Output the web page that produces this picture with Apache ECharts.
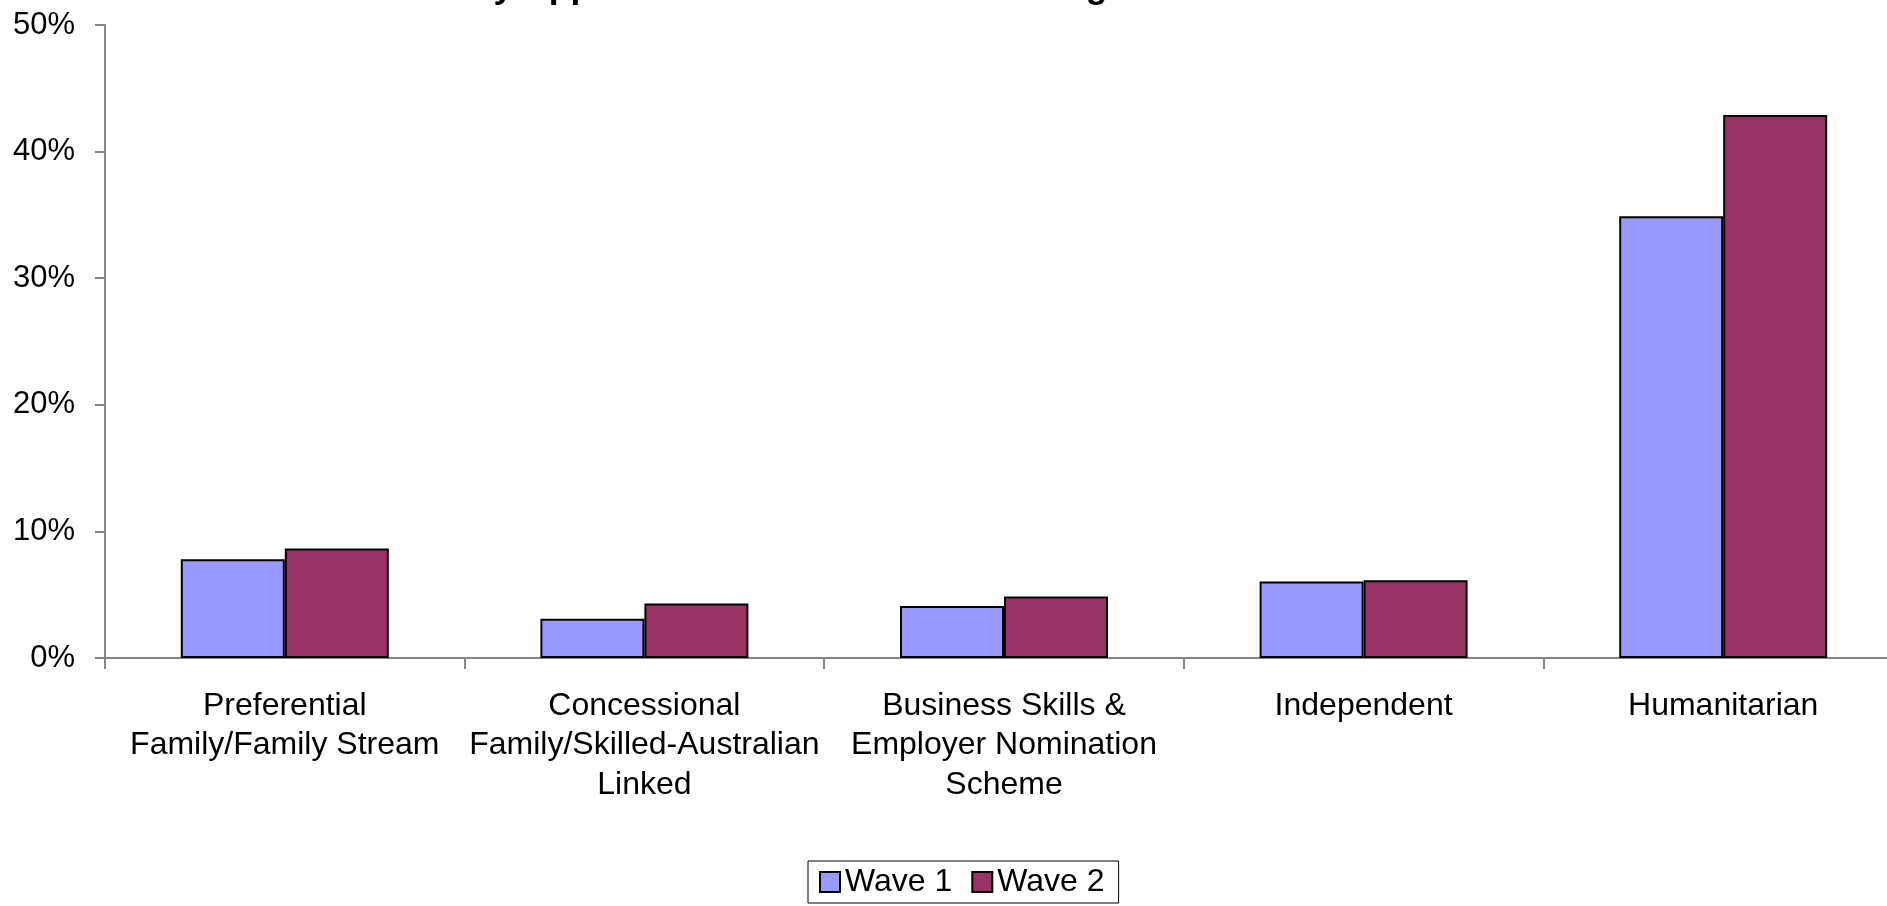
<!DOCTYPE html>
<html>
<head>
<meta charset="utf-8">
<style>
  html, body { margin: 0; padding: 0; background: #ffffff; }
  #chart { width: 1887px; height: 906px; }
</style>
<script src="https://cdn.jsdelivr.net/npm/echarts@6/dist/echarts.min.js"></script>
</head>
<body>
<div id="chart"></div>
<script>
const titleText = 'Primary Applicants Who Were Not Working';
const categories = [
  'Preferential\nFamily/Family Stream',
  'Concessional\nFamily/Skilled-Australian\nLinked',
  'Business Skills &\nEmployer Nomination\nScheme',
  'Independent',
  'Humanitarian'
];
const seriesNames = ['Wave 1', 'Wave 2'];
const wave1 = [7.8, 3.1, 4.1, 6.05, 34.9];
const wave2 = [8.65, 4.3, 4.85, 6.15, 42.9];
const yTicks = { min: 0, max: 50, interval: 10 };

const FONT = '"Liberation Sans", Arial, sans-serif';
const chart = echarts.init(document.getElementById('chart'), null, { renderer: 'canvas' });
chart.setOption({
  backgroundColor: '#ffffff',
  animation: false,
  title: {
    text: titleText,
    left: 381,
    top: -30,
    padding: 0,
    textStyle: { fontFamily: FONT, fontSize: 35.5, fontWeight: 'bold', color: '#000' }
  },
  legend: {
    data: seriesNames,
    left: 808,
    top: 861,
    orient: 'horizontal',
    itemWidth: 20,
    itemHeight: 20,
    itemGap: 19,
    padding: [5, 14, 5, 11],
    borderColor: '#000',
    borderWidth: 1,
    backgroundColor: '#fff',
    icon: 'rect',
    textStyle: { fontFamily: FONT, fontSize: 32, color: '#000' }
  },
  grid: { left: 105, right: -16, top: 25, bottom: 248, containLabel: false, outerBoundsMode: 'none' },
  xAxis: {
    type: 'category',
    data: categories,
    axisLine: { lineStyle: { color: '#868686', width: 2 } },
    axisTick: { show: true, length: 11, lineStyle: { color: '#868686', width: 2 } },
    axisLabel: {
      interval: 0,
      margin: 28,
      fontFamily: FONT,
      fontSize: 32,
      lineHeight: 39.5,
      color: '#000',
      align: 'center'
    },
    splitLine: { show: false }
  },
  yAxis: {
    type: 'value',
    min: yTicks.min,
    max: yTicks.max,
    interval: yTicks.interval,
    axisLine: { show: true, lineStyle: { color: '#868686', width: 2 } },
    axisTick: { show: true, length: 10, lineStyle: { color: '#868686', width: 2 } },
    axisLabel: {
      formatter: '{value}%',
      margin: 30,
      fontFamily: FONT,
      fontSize: 31,
      color: '#000'
    },
    splitLine: { show: false }
  },
  series: [
    {
      name: seriesNames[0],
      type: 'bar',
      data: wave1,
      barWidth: 104,
      barGap: '0%',
      itemStyle: { color: '#9999FF', borderColor: '#000', borderWidth: 2 }
    },
    {
      name: seriesNames[1],
      type: 'bar',
      data: wave2,
      barWidth: 104,
      barGap: '0%',
      itemStyle: { color: '#993366', borderColor: '#000', borderWidth: 2 }
    }
  ]
});
</script>
</body>
</html>
